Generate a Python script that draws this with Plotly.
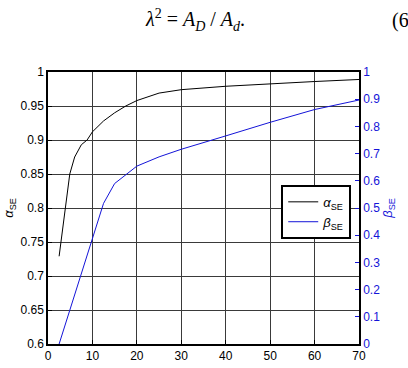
import plotly.graph_objects as go

# data
alpha_x = [2.5, 4, 4.9, 6, 7.5, 8.8, 10, 12.5, 15, 17.5, 20, 25, 30, 40, 50, 60, 70]
alpha_y = [0.729, 0.81, 0.85, 0.875, 0.893, 0.90, 0.912, 0.928, 0.940, 0.950, 0.958,
           0.969, 0.974, 0.979, 0.983, 0.986, 0.989]
beta_x = [2.5, 5, 7.5, 10, 12.5, 15, 17.5, 20, 25, 30, 40, 50, 60, 70]
beta_y = [0, 0.13, 0.265, 0.395, 0.517, 0.59, 0.622, 0.654, 0.688, 0.716, 0.765,
          0.815, 0.862, 0.897]

BLUE = "#1414d8"
FONT = "Arial, Liberation Sans, sans-serif"

fig = go.Figure()
fig.add_trace(go.Scatter(x=alpha_x, y=alpha_y, mode="lines",
                         line=dict(color="black", width=1),
                         name="<i>α</i><sub>SE</sub>"))
fig.add_trace(go.Scatter(x=beta_x, y=beta_y, mode="lines", yaxis="y2",
                         line=dict(color=BLUE, width=1),
                         name="<i>β</i><sub>SE</sub>"))

fig.update_layout(
    width=408, height=368,
    margin=dict(l=48, r=49, t=72, b=24),
    paper_bgcolor="white", plot_bgcolor="white",
    font=dict(family=FONT, size=12, color="black"),
    showlegend=True,
    legend=dict(x=0.975, y=0.585, xanchor="right", yanchor="top",
                bgcolor="white", bordercolor="black", borderwidth=2,
                font=dict(size=13), itemwidth=30, tracegroupgap=0),
    xaxis=dict(range=[0, 70], dtick=10, showgrid=True, gridcolor="#3a3a3a", gridwidth=1,
               showline=True, linecolor="black", linewidth=1.5, mirror=True,
               ticks="inside", ticklen=4, tickcolor="black", zeroline=False,
               tickfont=dict(size=12), automargin=False),
    yaxis=dict(range=[0.6, 1], dtick=0.05, showgrid=True, gridcolor="#3a3a3a", gridwidth=1,
               showline=True, linecolor="black", linewidth=1.5, mirror=True,
               ticks="inside", ticklen=4, tickcolor="black", zeroline=False,
               tickfont=dict(size=12), automargin=False,
               title=dict(text="<i>α</i><sub>SE</sub>", font=dict(size=13), standoff=4)),
    yaxis2=dict(range=[0, 1], dtick=0.1, overlaying="y", side="right", showgrid=False,
                showline=True, linecolor="black", linewidth=1.5, zeroline=False,
                ticks="inside", ticklen=4, tickcolor=BLUE, automargin=False,
                tickfont=dict(size=12, color=BLUE),
                title=dict(text="<i>β</i><sub>SE</sub>", font=dict(size=13, color=BLUE), standoff=4)),
)

fig.add_annotation(xref="paper", yref="paper", x=0.473, y=1.191, xanchor="center", yanchor="middle",
                   text="<i>λ</i><sup>2</sup> = <i>A</i><sub><i>D</i></sub> / <i>A</i><sub><i>d</i></sub>.",
                   showarrow=False, font=dict(family="Liberation Serif", size=20, color="black"))
fig.add_annotation(xref="paper", yref="paper", x=1.0985, y=1.191, xanchor="left", yanchor="middle",
                   text="(6)", showarrow=False,
                   font=dict(family="Liberation Serif", size=20, color="black"))
fig.add_annotation(xref="paper", yref="paper", x=0.499, y=-0.095, xanchor="center", yanchor="top",
                   text="<i>λ</i>", showarrow=False, font=dict(size=13, color="black"))

fig.write_html("out.html")
